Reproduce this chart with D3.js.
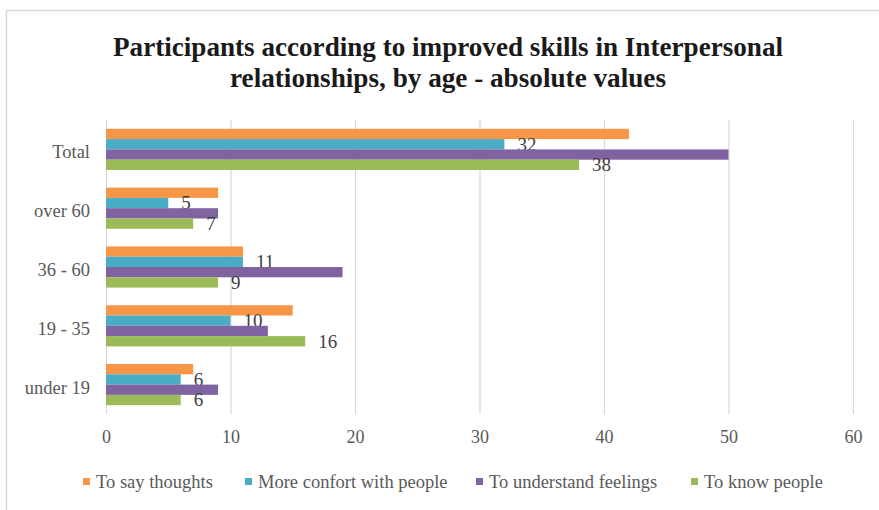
<!DOCTYPE html>
<html>
<head>
<meta charset="utf-8">
<script src="https://cdn.jsdelivr.net/npm/d3@7"></script>
<style>
  html, body { margin: 0; padding: 0; background: #fff; }
  svg { display: block; }
</style>
</head>
<body>
<svg id="chart" width="879" height="510"></svg>
<script>
const titleLines = ["Participants according to improved skills in Interpersonal", "relationships, by age - absolute values"];
const categories = ["Total", "over 60", "36 - 60", "19 - 35", "under 19"];
const seriesNames = ["To say thoughts", "More confort with people", "To understand feelings", "To know people"];
const sayThoughts = [42, 9, 11, 15, 7];
const moreConfort = [32, 5, 11, 10, 6];
const understandFeelings = [50, 9, 19, 13, 9];
const knowPeople = [38, 7, 9, 16, 6];
const colors = ["#F79646", "#4BACC6", "#8064A2", "#9BBB59"];
const labelled = [false, true, false, true];
const xTicks = [0, 10, 20, 30, 40, 50, 60];

const seriesValues = [sayThoughts, moreConfort, understandFeelings, knowPeople];

(function () {
const svg = d3.select("#chart");
const W = 879, H = 510;
const mLeft = 106, mRight = 853, mTop = 120, mBottom = 414;

// frame
svg.append("line").attr("x1", 6.5).attr("x2", W).attr("y1", 10.5).attr("y2", 10.5).attr("stroke", "#d9d9d9").attr("stroke-width", 1.5);
svg.append("line").attr("x1", 6.5).attr("x2", 6.5).attr("y1", 10.5).attr("y2", H).attr("stroke", "#d9d9d9").attr("stroke-width", 1.5);

// title
const titleFont = "'Liberation Serif', 'DejaVu Serif', serif";
const tl = [{t: titleLines[0], y: 56, len: 670}, {t: titleLines[1], y: 87, len: 436}];
svg.selectAll("text.title").data(tl).join("text")
  .attr("class", "title")
  .attr("x", 448).attr("y", d => d.y)
  .attr("text-anchor", "middle")
  .attr("font-family", titleFont)
  .attr("font-weight", "bold")
  .attr("font-size", 27)
  .attr("fill", "#1a1a1a")
  .attr("textLength", d => d.len)
  .attr("lengthAdjust", "spacingAndGlyphs")
  .text(d => d.t);

const x = d3.scaleLinear().domain([0, 60]).range([mLeft, mRight]);
const y = d3.scaleBand().domain(categories).range([mTop, mBottom]).paddingInner(0.3).paddingOuter(0.15);
const ySub = d3.scaleBand().domain(d3.range(seriesNames.length)).range([0, y.bandwidth()]);

// gridlines
svg.append("g").selectAll("line").data(xTicks).join("line")
  .attr("x1", d => x(d) + 0.5).attr("x2", d => x(d) + 0.5)
  .attr("y1", mTop).attr("y2", mBottom)
  .attr("stroke", "#d9d9d9").attr("stroke-width", 1.2);

// x axis labels
const axisFont = "'Liberation Serif', serif";
const xAxis = d3.axisBottom(x).tickValues(xTicks).tickSize(0).tickPadding(0);
const gx = svg.append("g").attr("transform", `translate(0,${mBottom + 16})`).call(xAxis);
gx.select(".domain").remove();
gx.selectAll("text").attr("font-family", axisFont).attr("font-size", 18).attr("fill", "#595959");

// y axis labels
const yAxis = d3.axisLeft(y).tickSize(0).tickPadding(0);
const gy = svg.append("g").attr("transform", `translate(90,3)`).call(yAxis);
gy.select(".domain").remove();
gy.selectAll("text").attr("font-family", axisFont).attr("font-size", 18.5).attr("fill", "#595959");

// bars
const groups = svg.append("g").selectAll("g").data(categories).join("g")
  .attr("transform", c => `translate(0,${y(c)})`);

groups.each(function(c, ci) {
  const g = d3.select(this);
  seriesValues.forEach((vals, si) => {
    g.append("rect")
      .attr("x", x(0)).attr("y", ySub(si))
      .attr("width", x(vals[ci]) - x(0))
      .attr("height", ySub.bandwidth())
      .attr("fill", colors[si]);
    if (labelled[si]) {
      g.append("text")
        .attr("x", x(vals[ci]) + 13)
        .attr("y", ySub(si) + ySub.bandwidth() / 2 + 2)
        .attr("dominant-baseline", "middle")
        .attr("font-family", axisFont).attr("font-size", 19)
        .attr("fill", "#404040")
        .text(vals[ci]);
    }
  });
});

// legend
const legendX = [83, 245, 476, 691];
const legend = svg.append("g").selectAll("g").data(seriesNames).join("g")
  .attr("transform", (d, i) => `translate(${legendX[i]},484)`);
legend.append("rect").attr("x", 0).attr("y", -6).attr("width", 7).attr("height", 7).attr("fill", (d, i) => colors[i]);
legend.append("text").attr("x", 13).attr("y", 0).attr("dominant-baseline", "middle")
  .attr("font-family", axisFont).attr("font-size", 18.5).attr("fill", "#595959")
  .text(d => d);
})();
</script>
</body>
</html>
